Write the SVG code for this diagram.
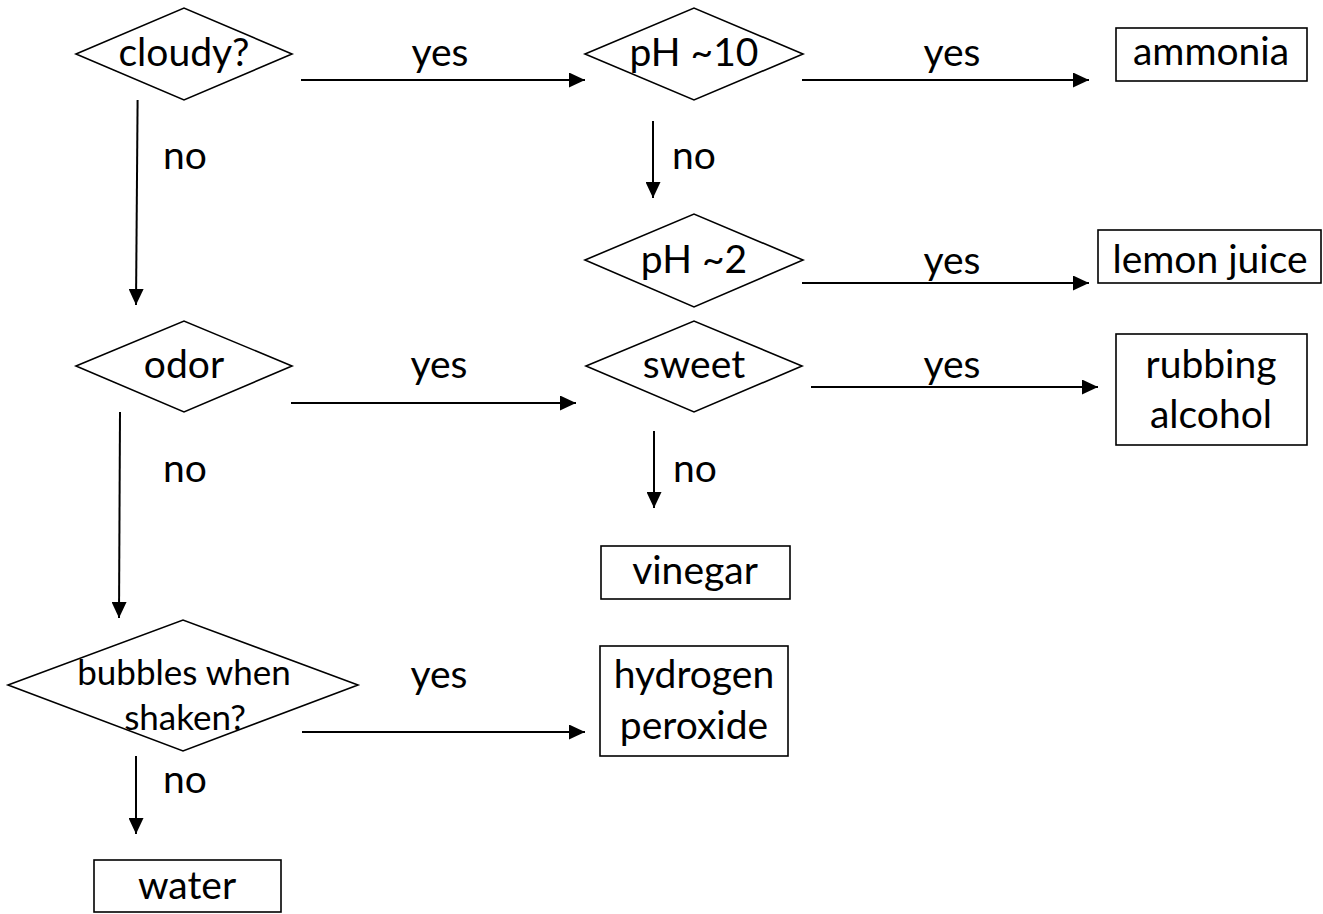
<svg xmlns="http://www.w3.org/2000/svg" width="1323" height="914" viewBox="0 0 1323 914">
<style>
.shape{fill:#fff;stroke:#000;stroke-width:1.6}
.t{font-family:Lato,"Liberation Sans",sans-serif;font-size:39px;fill:#000;text-anchor:middle}
.s{font-size:35px}
.c{stroke:#000;stroke-width:2;fill:none;marker-end:url(#ah)}
</style>
<defs>
<marker id="ah" markerUnits="userSpaceOnUse" markerWidth="16" markerHeight="15" refX="16" refY="7.5" orient="auto">
<path d="M0,0 L16,7.5 L0,15 z" fill="#000"/>
</marker>
</defs>
<rect width="1323" height="914" fill="#fff"/>
<g id="connectors">
<line class="c" x1="301" y1="80" x2="585" y2="80"/>
<line class="c" x1="802" y1="80" x2="1089" y2="80"/>
<line class="c" x1="137.6" y1="100" x2="136" y2="305"/>
<line class="c" x1="653" y1="121" x2="653" y2="198"/>
<line class="c" x1="802" y1="283" x2="1089" y2="283"/>
<line class="c" x1="811" y1="387" x2="1098" y2="387"/>
<line class="c" x1="291" y1="403" x2="576" y2="403"/>
<line class="c" x1="120" y1="412" x2="119" y2="618"/>
<line class="c" x1="654" y1="431" x2="654" y2="508"/>
<line class="c" x1="302" y1="732" x2="585" y2="732"/>
<line class="c" x1="136" y1="756" x2="136" y2="834"/>
<g class="t">
<text x="440" y="66">yes</text>
<text x="952" y="66">yes</text>
<text x="185" y="169">no</text>
<text x="694" y="169">no</text>
<text x="952" y="274">yes</text>
<text x="952" y="378">yes</text>
<text x="439" y="378">yes</text>
<text x="185" y="482">no</text>
<text x="695" y="482">no</text>
<text x="439" y="688">yes</text>
<text x="185" y="793">no</text>
</g>
</g>
<g id="cloudy">
<polygon class="shape" points="76,54 184,8 292,54 184,100"/>
<text class="t" x="184" y="66">cloudy?</text>
</g>
<g id="ph10">
<polygon class="shape" points="585,54 694,8 803,54 694,100"/>
<text class="t" x="694" y="66">pH ~10</text>
</g>
<g id="ph2">
<polygon class="shape" points="585,260 694,214 803,260 694,307"/>
<text class="t" x="694" y="273">pH ~2</text>
</g>
<g id="sweet">
<polygon class="shape" points="586,366 694,321 802,366 694,412"/>
<text class="t" x="694" y="378">sweet</text>
</g>
<g id="odor">
<polygon class="shape" points="76,366 184,321 292,366 184,412"/>
<text class="t" x="184" y="378">odor</text>
</g>
<g id="bubbles">
<polygon class="shape" points="8,685 183,620 358,685 183,751"/>
<text class="t s" x="184" y="685">bubbles when</text>
<text class="t s" x="185" y="730">shaken?</text>
</g>
<g id="ammonia">
<rect class="shape" x="1116" y="28" width="191" height="53"/>
<text class="t" x="1211" y="65">ammonia</text>
</g>
<g id="lemon">
<rect class="shape" x="1098" y="230" width="223" height="53"/>
<text class="t" x="1210" y="273">lemon juice</text>
</g>
<g id="rubbing">
<rect class="shape" x="1116" y="334" width="191" height="111"/>
<text class="t" x="1211" y="378">rubbing</text>
<text class="t" x="1211" y="428">alcohol</text>
</g>
<g id="vinegar">
<rect class="shape" x="601" y="546" width="189" height="53"/>
<text class="t" x="695" y="584">vinegar</text>
</g>
<g id="hydrogen">
<rect class="shape" x="600" y="646" width="188" height="110"/>
<text class="t" x="694" y="688">hydrogen</text>
<text class="t" x="694" y="739">peroxide</text>
</g>
<g id="water">
<rect class="shape" x="94" y="860" width="187" height="52"/>
<text class="t" x="187" y="899">water</text>
</g>
</svg>
